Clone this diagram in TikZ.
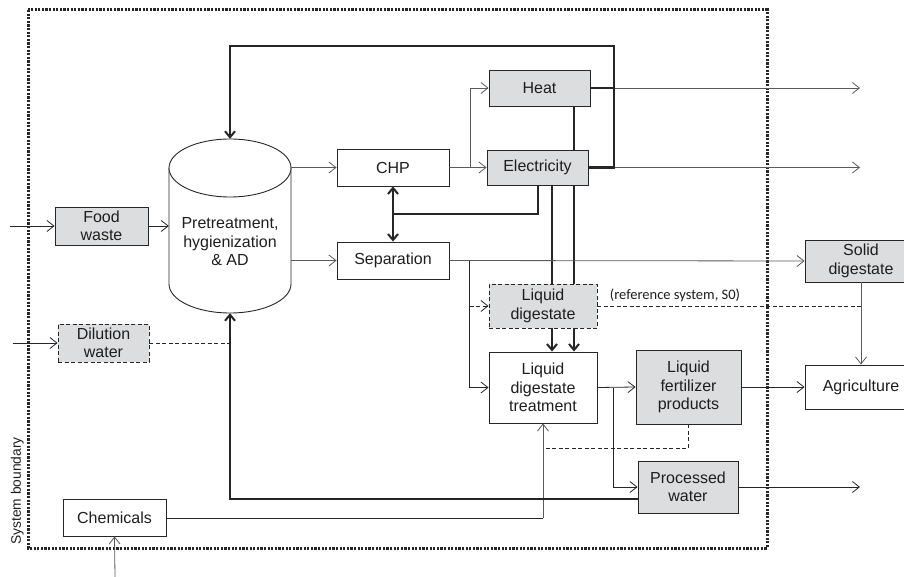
\documentclass[tikz,border=0pt]{standalone}
\usepackage{fontspec}
\setmainfont{Liberation Sans}
\newfontfamily\calibrifont{Carlito}
\usetikzlibrary{arrows.meta}
\definecolor{boxgray}{HTML}{DCDDDE}
\definecolor{linec}{HTML}{262626}
\definecolor{greyline}{HTML}{5A5A5A}
\definecolor{textc}{HTML}{1E1E1E}
\begin{document}
\begin{tikzpicture}[x=1pt,y=-1pt,
  font=\fontsize{16}{18.5}\selectfont,
  box/.style={draw=linec, line width=0.9pt, inner sep=0pt, align=center, fill=white, text=textc},
  gbox/.style={box, fill=boxgray},
  dbox/.style={gbox, dash pattern=on 4pt off 2.5pt},
  thinline/.style={draw=linec, line width=0.8pt},
  thinarrow/.style={thinline, -{Straight Barb[length=7pt,width=11pt]}},
  greyarrow/.style={draw=greyline, line width=0.8pt, -{Straight Barb[length=7pt,width=11pt]}},
  dline/.style={thinline, dash pattern=on 4pt off 2.5pt},
  darrow/.style={dline, -{Straight Barb[length=7pt,width=11pt]}},
  thickline/.style={draw=linec, line width=2.5pt},
  thickarrow/.style={thickline, -{Straight Barb[length=6pt,width=10pt,line width=2pt]}},
  thickdouble/.style={thickline, {Straight Barb[length=6pt,width=10pt,line width=2pt]}-{Straight Barb[length=6pt,width=10pt,line width=2pt]}}
]
\useasboundingbox (0,0) rectangle (904,577);
\fill[white] (0,0) rectangle (904,577);

% system boundary
\draw[line width=3pt, dash pattern=on 2.2pt off 1.4pt, draw=linec] (28,10) rectangle (767,548);
\node[rotate=90, font=\fontsize{13.8}{16}\selectfont, text=textc, anchor=south, inner sep=0pt] (sb) at (24,491) {System boundary};

% cylinder
\node[minimum width=122pt, minimum height=174pt, inner sep=0pt] (ad) at (230,226) {};
\draw[draw=linec, line width=0.9pt, fill=white] (169,168) -- (169,284) arc[start angle=180, end angle=0, x radius=61, y radius=29] -- (291,168);
\draw[draw=linec, line width=0.9pt, fill=white] (230,168) ellipse [x radius=61, y radius=29];
\node[align=center, text=textc, inner sep=0pt] (adtext) at (230,242) {Pretreatment,\\hygienization\\\& AD};

% boxes
\node[gbox, minimum width=93pt, minimum height=38pt] (food) at (101.5,226) {Food\\waste};
\node[dbox, minimum width=91pt, minimum height=38pt] (dw) at (103.5,343) {Dilution\\water};
\node[box, minimum width=103pt, minimum height=37pt] (chem) at (114.5,517.5) {Chemicals};
\node[box, minimum width=112pt, minimum height=37pt] (chp) at (393,167.5) {CHP};
\node[box, minimum width=112pt, minimum height=37pt] (sep) at (393,260.5) {Separation};
\node[gbox, minimum width=101pt, minimum height=36pt] (heat) at (539.5,88) {Heat};
\node[gbox, minimum width=101pt, minimum height=35pt] (elec) at (537.5,167.5) {Electricity};
\node[dbox, minimum width=108pt, minimum height=44pt] (ld) at (543,306) {Liquid\\digestate};
\node[box, minimum width=108pt, minimum height=71pt] (tr) at (543,387.5) {Liquid\\digestate\\treatment};
\node[gbox, minimum width=105pt, minimum height=74pt] (fert) at (688.5,387) {Liquid\\fertilizer\\products};
\node[gbox, minimum width=100pt, minimum height=52pt] (pw) at (688,487) {Processed\\water};
\node[gbox, minimum width=112pt, minimum height=42pt] (sd) at (861,261) {Solid\\digestate};
\node[box, minimum width=112pt, minimum height=44pt] (agr) at (861,387) {Agriculture};
\node[font=\calibrifont\fontsize{14.5}{16}\selectfont, text=textc, inner sep=0pt] (ref) at (675,295) {(reference system, S0)};

% free ends and bends
\coordinate (foodin) at (10,226);
\coordinate (dwin) at (13,343);
\coordinate (chemin) at (115,577);
\coordinate (heatout) at (860,88);
\coordinate (elecout) at (860,167.5);
\coordinate (pwout) at (860,487);
\coordinate (fbR) at (614,167.5);
\coordinate (fbTR) at (614,46);
\coordinate (fbTL) at (230,46);
\coordinate (fbH) at (614,88);
\coordinate (chpbr) at (470,167.5);
\coordinate (sepbr) at (469,261);
\coordinate (trbr) at (613,387.5);
\coordinate (ecorner) at (538,214);
\coordinate (ejoin) at (393,214);
\coordinate (pwL) at (230,499);
\coordinate (dwjoin) at (230,343);
\coordinate (ldjoin) at (861,306);
\coordinate (fertc) at (543,448);
\coordinate (chemc) at (543,518);

% inputs
\draw[thinarrow] (foodin) -- (food.west);
\draw[thinarrow] (dwin) -- (dw.west);
\draw[greyarrow] (chemin) -- (chem.south);
\draw[thinarrow] (food.east) -- (food.east -| ad.west);
\draw[dline] (dw.east) -- (dwjoin);

% cylinder outputs
\draw[greyarrow] (ad.east |- chp.west) -- (chp.west);
\draw[greyarrow] (ad.east |- sep.west) -- (sep.west);

% CHP outputs
\draw[greyarrow] (chp.east) -- (elec.west);
\draw[greyarrow] (chpbr) |- (heat.west);
\draw[greyarrow] (heat.east) -- (heatout);
\draw[greyarrow] (elec.east) -- (elecout);
\draw[draw=linec, line width=1.8pt] (574,0 |- heat.south) -- (574,0 |- elec.north);

% feedback loop
\draw[thickline] (heat.east) -- (fbH);
\draw[thickarrow] (elec.east) -- (fbR) -- (fbTR) -- (fbTL) -- (ad.north);

% electricity to CHP/separation
\draw[thickline] (538,0 |- elec.south) -- (ecorner) -- (ejoin);
\draw[thickdouble] (chp.south) -- (sep.north);

% electricity to treatment
\draw[thickline] (552,0 |- elec.south) -- (552,0 |- ld.north);
\draw[thickline] (574,0 |- elec.south) -- (574,0 |- ld.north);
\draw[thickarrow] (552,0 |- ld.south) -- (552,0 |- tr.north);
\draw[thickarrow] (574,0 |- ld.south) -- (574,0 |- tr.north);

% separation outputs
\draw[greyarrow] (sep.east) -- (sd.west);
\draw[thinarrow] (sepbr) |- (tr.west);
\draw[darrow] (sepbr) |- (ld.west);

% liquid digestate reference route
\draw[dline] (ld.east |- ldjoin) -- (ldjoin);
\draw[greyarrow] (sd.south) -- (agr.north);

% treatment outputs
\draw[thinarrow] (tr.east) -- (fert.west);
\draw[thinarrow] (trbr) |- (pw.west);
\draw[thinarrow] (fert.east) -- (agr.west);
\draw[thinarrow] (pw.east) -- (pwout);
\draw[dline] (fert.south) |- (fertc);

% chemicals
\draw[thinline] (chem.east |- chemc) -- (chemc);
\draw[greyarrow] (chemc) -- (tr.south);

% processed water recycle
\draw[thickarrow] (pw.west |- pwL) -- (pwL) -- (ad.south);
\end{tikzpicture}
\end{document}
